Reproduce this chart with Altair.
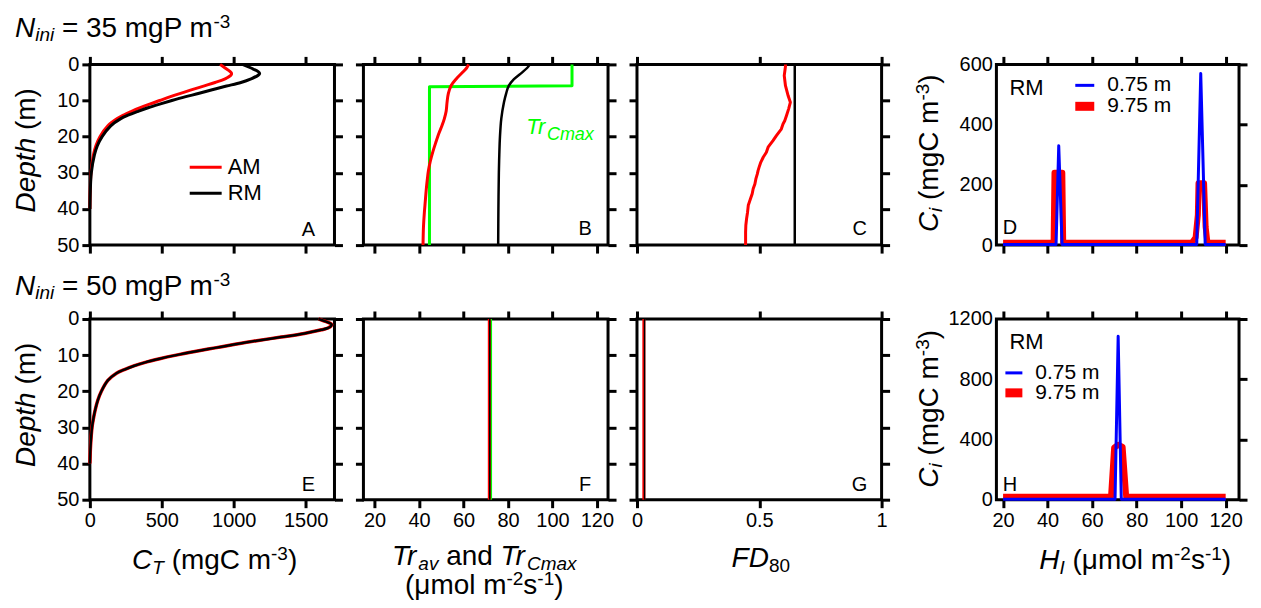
import altair as alt
import pandas as pd

FONT = "Liberation Sans"
PW, PH, PW4 = 245, 181, 243
RED, BLACK, GREEN, BLUE = "#ff0000", "#000000", "#00ff00", "#0000ff"

# ---------------- data ----------------
# Panel A (N_ini = 35): total carbon profiles
A_depth = [0, 1, 2, 2.5, 3, 4, 5, 6, 7, 8, 9, 10, 11, 12, 13, 14, 15, 17, 20, 22.5, 25, 30, 35, 40]
A_AM = [905, 940, 975, 985, 980, 940, 870, 790, 710, 630, 555, 485, 415, 350, 290, 235, 190, 125, 70, 42, 25, 8, 2, 0]
A_RM = [1060, 1120, 1170, 1180, 1170, 1120, 1050, 950, 850, 760, 660, 570, 485, 405, 335, 270, 215, 145, 85, 52, 32, 10, 3, 0]

# Panel B: Tr_av (AM, RM) and Tr_Cmax
B_depth_AM = [0, 1, 2.2, 4.1, 5.9, 8, 10.5, 13, 15, 17, 19, 21.5, 24, 27, 29.5, 32, 35, 38, 41, 45, 50]
B_AM = [62.3, 61.4, 59.6, 56.6, 54.4, 53.2, 52.6, 52.2, 51.4, 50.3, 49.0, 47.6, 46.3, 45.0, 44.2, 43.7, 43.2, 42.8, 42.4, 42.0, 41.8]
B_depth_RM = [0, 1, 2.2, 4.1, 5.9, 8, 10.5, 15, 20, 25, 30, 40, 50]
B_RM = [89.9, 88.6, 86.4, 82.7, 80.4, 79.2, 78.2, 77.0, 76.4, 76.1, 75.9, 75.7, 75.6]
B_depth_CMAX = [0, 5.9, 6.2, 50]
B_CMAX = [108.8, 108.8, 44.7, 44.7]

# Panel C: FD80
C_depth_AM = [0, 0.55, 3.1, 5.9, 8.7, 10.5, 12.3, 14.2, 15.6, 16.5, 17.9, 19.7, 21.1, 22.9, 24.3, 25.7,
              27.1, 28.5, 29.4, 30.3, 31.7, 33.1, 34.4, 35.8, 37.2, 39.0, 40.9, 42.7, 44.5, 46.4, 50]
C_AM = [0.607, 0.607, 0.602, 0.607, 0.618, 0.627, 0.620, 0.611, 0.604, 0.597, 0.590, 0.570, 0.556, 0.536,
        0.529, 0.516, 0.506, 0.499, 0.495, 0.492, 0.486, 0.482, 0.475, 0.471, 0.464, 0.455, 0.452, 0.448,
        0.445, 0.444, 0.444]
C_depth_RM = [0, 50]
C_RM = [0.645, 0.645]

# Panel D: C_i vs H_I (RM)
D_H_blue = [20, 43.8, 45.0, 46.5, 107.0, 108.8, 110.8, 120]
D_C_blue = [2, 2, 330, 2, 2, 570, 2, 2]
D_H_red = [20, 42.7, 43.1, 46.6, 47.0, 104.8, 106.5, 107.5, 107.8, 110.3, 111.0, 111.8, 120]
D_C_red = [8, 8, 240, 240, 8, 8, 25, 100, 205, 205, 60, 8, 8]

# Panel E (N_ini = 50)
E_depth = [0, 0.5, 1, 1.5, 2, 2.5, 3, 4, 5, 6, 7, 8, 9, 10, 11, 12, 13, 14, 15, 17, 20, 22.5, 25, 27.5, 30, 35, 40]
E_AM = [1590, 1625, 1660, 1680, 1675, 1655, 1610, 1490, 1330, 1160, 1010, 870, 730, 600, 485, 385, 305, 240,
        185, 125, 80, 55, 38, 25, 15, 5, 0]
E_RM = [1590, 1625, 1660, 1680, 1675, 1655, 1610, 1490, 1330, 1160, 1010, 870, 730, 600, 485, 385, 305, 240,
        185, 125, 80, 55, 38, 25, 15, 5, 0]

# Panel F
F_depth = [0, 50]
F_AM = [71.6, 71.6]
F_RM = [71.8, 71.8]
F_CMAX = [72.4, 72.4]

# Panel G
G_depth = [0, 50]
G_AM = [0.028, 0.028]
G_RM = [0.031, 0.031]

# Panel H
H_H_blue = [20, 70.3, 71.7, 73.1, 120]
H_C_blue = [3, 3, 1085, 3, 3]
H_H_red = [20, 68.5, 69.9, 71.7, 73.7, 75.3, 120]
H_C_red = [20, 20, 345, 365, 350, 20, 20]

# axis ticks
DEPTH_TICKS = [0, 10, 20, 30, 40, 50]
CT_TICKS = [0, 500, 1000, 1500]
TR_TICKS = [20, 40, 60, 80, 100, 120]
FD_TICKS = [0, 0.5, 1]
D_YTICKS = [0, 200, 400, 600]
H_YTICKS = [0, 400, 800, 1200]

# ---------------- helpers ----------------
CW = {' ': 278, '(': 333, ')': 333, '-': 333, '.': 278, '=': 584, 'μ': 576}
for ch in "0123456789":
    CW[ch] = 556
CW.update({'a': 556, 'b': 556, 'c': 500, 'd': 556, 'e': 556, 'f': 278, 'g': 556, 'h': 556, 'i': 222, 'j': 222,
           'k': 500, 'l': 222, 'm': 833, 'n': 556, 'o': 556, 'p': 556, 'q': 556, 'r': 333, 's': 500, 't': 278,
           'u': 556, 'v': 500, 'w': 722, 'x': 500, 'y': 500, 'z': 500, 'A': 667, 'C': 722, 'D': 722,
           'F': 611, 'H': 722, 'I': 278, 'M': 833, 'N': 722, 'P': 667, 'R': 722, 'T': 611})


def tw(s, size):
    return sum(CW.get(c, 556) for c in s) * size / 1000.0


ONE = alt.Data(values=[{"k": 0}])


def rich(segs, x, y, center=True, angle=0, color=BLACK):
    total = sum(tw(t, sz) for t, sz, it, dy in segs)
    off = -total / 2 if center else 0
    out = []
    for t, sz, it, dy in segs:
        lead = len(t) - len(t.lstrip(" "))
        core = t.strip(" ")
        kw = dict(text=core, font=FONT, fontSize=sz, fontStyle="italic" if it else "normal",
                  align="left", baseline="alphabetic", dx=off + tw(" " * lead, sz), dy=dy, color=color)
        if angle:
            kw["angle"] = angle
        out.append(alt.Chart(ONE).mark_text(**kw).encode(x=alt.value(x), y=alt.value(y)))
        off += tw(t, sz)
    return out


def txt(s, x, y, size=20, align="center", color=BLACK):
    return alt.Chart(ONE).mark_text(text=s, font=FONT, fontSize=size, align=align,
                                    baseline="middle", color=color).encode(x=alt.value(x), y=alt.value(y))


def rule(x1, x2, y, color, width):
    return alt.Chart(ONE).mark_rule(color=color, strokeWidth=width).encode(
        x=alt.value(x1), x2=alt.value(x2), y=alt.value(y))


def axis(orient, values, labels, fmt="d", tick=8, pad=3):
    return alt.Axis(orient=orient, values=values, labels=labels, format=fmt, ticks=tick > 0,
                    tickSize=tick, tickWidth=3, tickColor=BLACK, domain=False, grid=False, title=None,
                    labelFont=FONT, labelFontSize=20, labelColor=BLACK, labelPadding=pad,
                    labelFlush=False, labelOverlap=False)


def panel(series, xdom, xvals, ydom, yvals, xlab, ylab, extras, xf, yf, yrev=True,
          xfmt="d", yfmt="d", lefttick=8, leftpad=3, w=PW):
    xs = alt.Scale(domain=xdom, nice=False, zero=False)
    ys = alt.Scale(domain=ydom, nice=False, zero=False, reverse=yrev)
    layers = []
    for i, (df, color, width, interp) in enumerate(series):
        if i == 0:
            xa = axis("bottom", xvals, xlab, xfmt)
            ya = axis("left", yvals, ylab, yfmt, lefttick, leftpad)
        else:
            xa = None
            ya = None
        layers.append(
            alt.Chart(df).mark_line(color=color, strokeWidth=width, interpolate=interp, strokeJoin="round")
            .encode(x=alt.X(f"{xf}:Q", scale=xs, axis=xa), y=alt.Y(f"{yf}:Q", scale=ys, axis=ya),
                    order=alt.Order(f"{yf if yrev else xf}:Q"))
        )
    ghost = alt.Chart(series[0][0]).mark_line(opacity=0).encode(
        x=alt.X(f"{xf}:Q", scale=xs, axis=axis("top", xvals, False, xfmt)),
        y=alt.Y(f"{yf}:Q", scale=ys, axis=axis("right", yvals, False, yfmt)))
    layers.append(ghost)
    layers += extras
    return alt.layer(*layers).resolve_axis(x="independent", y="independent").properties(width=w, height=PH)


def prof(depth, vals):
    return pd.DataFrame({"d": depth, "v": vals})


def dist(h, c):
    return pd.DataFrame({"h": h, "c": c})


NINI35 = [("N", 28, True, 0), ("ini", 19, True, 4), (" = 35 mgP m", 28, False, 0), ("-3", 19, False, -9)]
NINI50 = [("N", 28, True, 0), ("ini", 19, True, 4), (" = 50 mgP m", 28, False, 0), ("-3", 19, False, -9)]
DEPTH = [("Depth", 28, True, 0), (" (m)", 28, False, 0)]
CI = [("C", 28, True, 0), ("i", 19, True, 5), (" (mgC m", 28, False, 0), ("-3", 19, False, -9), (")", 28, False, 0)]
CT = [("C", 28, True, 0), ("T", 19, True, 5), (" (mgC m", 28, False, 0), ("-3", 19, False, -9), (")", 28, False, 0)]
TR1 = [("Tr", 28, True, 0), ("av", 19, True, 5), (" and ", 28, False, 0), ("Tr", 28, True, 0), ("Cmax", 19, True, 5)]
TR2 = [("(μmol m", 28, False, 0), ("-2", 19, False, -9), ("s", 28, False, 0), ("-1", 19, False, -9), (")", 28, False, 0)]
FD = [("FD", 28, True, 0), ("80", 19, False, 5)]
HI = [("H", 28, True, 0), ("I", 19, True, 5), (" (μmol m", 28, False, 0), ("-2", 19, False, -9),
      ("s", 28, False, 0), ("-1", 19, False, -9), (")", 28, False, 0)]
TRCMAX = [("Tr", 22, True, 0), ("Cmax", 18, True, 6)]

# ---------------- panels ----------------
A = panel(
    [(prof(A_depth, A_AM), RED, 3, "catmull-rom"), (prof(A_depth, A_RM), BLACK, 3, "catmull-rom")],
    [0, 1700], CT_TICKS, [0, 50], DEPTH_TICKS, False, True,
    rich(NINI35, -75, -27, center=False) + rich(DEPTH, -55, 86, angle=270)
    + [rule(100, 132, 103, RED, 3), rule(100, 132, 129, BLACK, 3),
       txt("AM", 138, 103, 22, "left"), txt("RM", 138, 129, 22, "left"), txt("A", PW - 26, 166)],
    "v", "d")

B = panel(
    [(prof(B_depth_CMAX, B_CMAX), GREEN, 3, "linear"), (prof(B_depth_AM, B_AM), RED, 3, "catmull-rom"),
     (prof(B_depth_RM, B_RM), BLACK, 2.5, "catmull-rom")],
    [15, 125], TR_TICKS, [0, 50], DEPTH_TICKS, False, False,
    rich(TRCMAX, 163, 70, center=False, color=GREEN) + [txt("B", PW - 23, 165)],
    "v", "d")

C = panel(
    [(prof(C_depth_AM, C_AM), RED, 3, "linear"), (prof(C_depth_RM, C_RM), BLACK, 2.5, "linear")],
    [0, 1], FD_TICKS, [0, 50], DEPTH_TICKS, False, False,
    [txt("C", PW - 22, 165)],
    "v", "d", xfmt="~g")

D = panel(
    [(dist(D_H_red, D_C_red), RED, 6, "linear"), (dist(D_H_blue, D_C_blue), BLUE, 3, "linear")],
    [17, 126], TR_TICKS, [0, 600], D_YTICKS, False, True,
    rich(CI, -59, 89, angle=270)
    + [txt("RM", 13, 23.5, 22, "left"), rule(79, 98, 21, BLUE, 3), txt("0.75 m", 111, 21, 21, "left"),
       rule(79, 98, 42, RED, 9), txt("9.75 m", 111, 42, 21, "left"), txt("D", 13.5, 164)],
    "h", "c", yrev=False, lefttick=0, leftpad=4, w=PW4)

E = panel(
    [(prof(E_depth, E_AM), RED, 3.5, "catmull-rom"), (prof(E_depth, E_RM), BLACK, 2.5, "catmull-rom")],
    [0, 1700], CT_TICKS, [0, 50], DEPTH_TICKS, True, True,
    rich(NINI50, -75, -24, center=False) + rich(DEPTH, -55, 86, angle=270) + rich(CT, 125, 250)
    + [txt("E", PW - 26, 166)],
    "v", "d")

F = panel(
    [(prof(F_depth, F_CMAX), GREEN, 2, "linear"), (prof(F_depth, F_AM), RED, 3, "linear"),
     (prof(F_depth, F_RM), BLACK, 1.5, "linear")],
    [15, 125], TR_TICKS, [0, 50], DEPTH_TICKS, True, False,
    rich(TR1, 121, 246) + rich(TR2, 121, 275) + [txt("F", PW - 23, 166)],
    "v", "d")

G = panel(
    [(prof(G_depth, G_AM), RED, 3, "linear"), (prof(G_depth, G_RM), BLACK, 1.5, "linear")],
    [0, 1], FD_TICKS, [0, 50], DEPTH_TICKS, True, False,
    rich(FD, 124, 248) + [txt("G", PW - 22, 166)],
    "v", "d", xfmt="~g")

H = panel(
    [(dist(H_H_red, H_C_red), RED, 6, "linear"), (dist(H_H_blue, H_C_blue), BLUE, 3, "linear")],
    [17, 126], TR_TICKS, [0, 1200], H_YTICKS, True, True,
    rich(CI, -59, 90, angle=270) + rich(HI, 139, 250)
    + [txt("RM", 13, 23.5, 22, "left"), rule(9, 26, 54, BLUE, 3), txt("0.75 m", 39, 54, 21, "left"),
       rule(9, 26, 74, RED, 9), txt("9.75 m", 39, 74, 21, "left"), txt("H", 13.5, 166)],
    "h", "c", yrev=False, lefttick=0, leftpad=4, w=PW4)

spacer = alt.Chart(ONE).mark_point(opacity=0).encode(x=alt.value(0), y=alt.value(0)).properties(
    width=57, height=PH, view=alt.ViewBackground(stroke="transparent"))

chart = alt.concat(
    A, B, C, spacer, D, E, F, G, spacer, H,
    columns=5, spacing={"row": 74, "column": 29}, bounds="flush", align="each",
).properties(
    padding={"left": 3, "top": 3, "right": 3, "bottom": 0},
    background="white",
).configure_view(stroke=BLACK, strokeWidth=3)

chart.save("out.html", embed_options={"renderer": "svg", "actions": False})
